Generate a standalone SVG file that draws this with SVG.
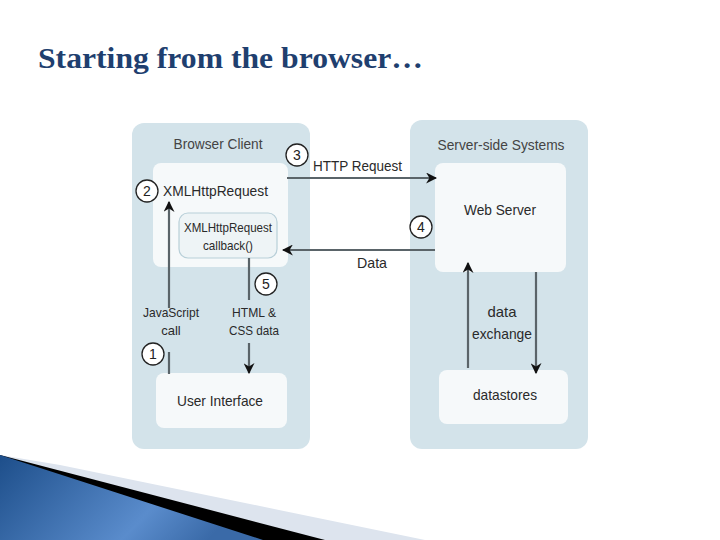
<svg xmlns="http://www.w3.org/2000/svg" width="720" height="540" viewBox="0 0 720 540">
<style>
.panel{fill:#d3e3ea}
.box{fill:#f6f9fa}
.lbl{font-family:"Liberation Sans",Arial,sans-serif;fill:#2a2a2a;font-size:15px}
.sm{font-size:13px}
.hdr{fill:#444}
.num{fill:#fff;stroke:#222;stroke-width:1.3}
.numt{font-family:"Liberation Sans",Arial,sans-serif;font-size:14px;fill:#222;text-anchor:middle}
.conn{stroke:#5a6469;stroke-width:2.2;fill:none}
</style>
<defs>
<marker id="ah" viewBox="0 0 10 10" refX="9" refY="5" markerWidth="5" markerHeight="5" orient="auto-start-reverse" markerUnits="strokeWidth">
<path d="M0,0 L10,5 L0,10 L3,5 Z" fill="#111"/>
</marker>
<linearGradient id="blue" x1="0" y1="0" x2="1" y2="0.3">
<stop offset="0" stop-color="#1d4e8a"/>
<stop offset="0.7" stop-color="#5a8ccc"/>
<stop offset="1" stop-color="#3a6aa8"/>
</linearGradient>
</defs>
<rect width="720" height="540" fill="#fff"/>
<text x="38" y="68" font-family="Liberation Serif,Times New Roman,serif" font-size="29" font-weight="bold" fill="#1f3f6f" textLength="385" lengthAdjust="spacingAndGlyphs">Starting from the browser…</text>

<g id="browser-client">
<rect class="panel" x="132" y="123" width="178" height="326" rx="12"/>
<text class="lbl hdr" x="218" y="149" text-anchor="middle" textLength="89" lengthAdjust="spacingAndGlyphs">Browser Client</text>
</g>
<g id="server-side">
<rect class="panel" x="410" y="120" width="178" height="329" rx="12"/>
<text class="lbl hdr" x="501" y="150" text-anchor="middle" textLength="127" lengthAdjust="spacingAndGlyphs">Server-side Systems</text>
</g>
<g id="xmlhttprequest">
<rect class="box" x="153" y="163" width="135" height="104" rx="8"/>
<text class="lbl" x="163" y="196" textLength="105" lengthAdjust="spacingAndGlyphs">XMLHttpRequest</text>
</g>
<g id="callback">
<rect x="179" y="213" width="98" height="45" rx="9" fill="#eef4f6" stroke="#b8cfd8" stroke-width="1.2"/>
<text class="lbl sm" x="228" y="232" text-anchor="middle" textLength="88" lengthAdjust="spacingAndGlyphs">XMLHttpRequest</text>
<text class="lbl sm" x="228" y="250" text-anchor="middle" textLength="50" lengthAdjust="spacingAndGlyphs">callback()</text>
</g>
<g id="user-interface">
<rect class="box" x="156" y="373" width="131" height="55" rx="8"/>
<text class="lbl" x="220" y="406" text-anchor="middle" textLength="86" lengthAdjust="spacingAndGlyphs">User Interface</text>
</g>
<g id="web-server">
<rect class="box" x="435" y="163" width="131" height="109" rx="8"/>
<text class="lbl" x="500" y="215" text-anchor="middle" textLength="72" lengthAdjust="spacingAndGlyphs">Web Server</text>
</g>
<g id="datastores">
<rect class="box" x="439" y="370" width="129" height="54" rx="8"/>
<text class="lbl" x="505" y="400" text-anchor="middle" textLength="64" lengthAdjust="spacingAndGlyphs">datastores</text>
</g>

<g id="connectors">
<line class="conn" x1="287" y1="178" x2="436" y2="178" marker-end="url(#ah)"/>
<line class="conn" x1="435" y1="250" x2="283" y2="250" marker-end="url(#ah)"/>
<line class="conn" x1="169" y1="308" x2="169" y2="202" marker-end="url(#ah)"/>
<line class="conn" x1="169" y1="352" x2="169" y2="374"/>
<line class="conn" x1="249" y1="258" x2="249" y2="300"/>
<line class="conn" x1="249" y1="343" x2="249" y2="373" marker-end="url(#ah)"/>
<line class="conn" x1="468" y1="368" x2="468" y2="263" marker-end="url(#ah)"/>
<line class="conn" x1="536" y1="272" x2="536" y2="373" marker-end="url(#ah)"/>
</g>

<g id="labels">
<text class="lbl" x="313" y="171" textLength="89" lengthAdjust="spacingAndGlyphs">HTTP Request</text>
<text class="lbl" x="357" y="268" textLength="30" lengthAdjust="spacingAndGlyphs">Data</text>
<text class="lbl sm" x="171" y="317" text-anchor="middle" textLength="56" lengthAdjust="spacingAndGlyphs">JavaScript</text>
<text class="lbl sm" x="171" y="335" text-anchor="middle">call</text>
<text class="lbl sm" x="254" y="317" text-anchor="middle" textLength="44" lengthAdjust="spacingAndGlyphs">HTML &amp;</text>
<text class="lbl sm" x="254" y="335" text-anchor="middle" textLength="50" lengthAdjust="spacingAndGlyphs">CSS data</text>
<text class="lbl" x="502" y="317" text-anchor="middle" textLength="29" lengthAdjust="spacingAndGlyphs">data</text>
<text class="lbl" x="502" y="339" text-anchor="middle" textLength="60" lengthAdjust="spacingAndGlyphs">exchange</text>
</g>

<g id="step-1"><circle class="num" cx="153" cy="354" r="11"/><text class="numt" x="153" y="359">1</text></g>
<g id="step-2"><circle class="num" cx="147" cy="191" r="11"/><text class="numt" x="147" y="196">2</text></g>
<g id="step-3"><circle class="num" cx="297" cy="155" r="11"/><text class="numt" x="297" y="160">3</text></g>
<g id="step-4"><circle class="num" cx="421" cy="227" r="11"/><text class="numt" x="421" y="232">4</text></g>
<g id="step-5"><circle class="num" cx="266" cy="284" r="11"/><text class="numt" x="266" y="289">5</text></g>

<g id="decoration">
<polygon points="0,455 60,465 425,540 0,540" fill="#dde4ee"/>
<polygon points="0,455 325,540 0,540" fill="#000"/>
<polygon points="0,455 263,540 0,540" fill="url(#blue)"/>
</g>
</svg>
